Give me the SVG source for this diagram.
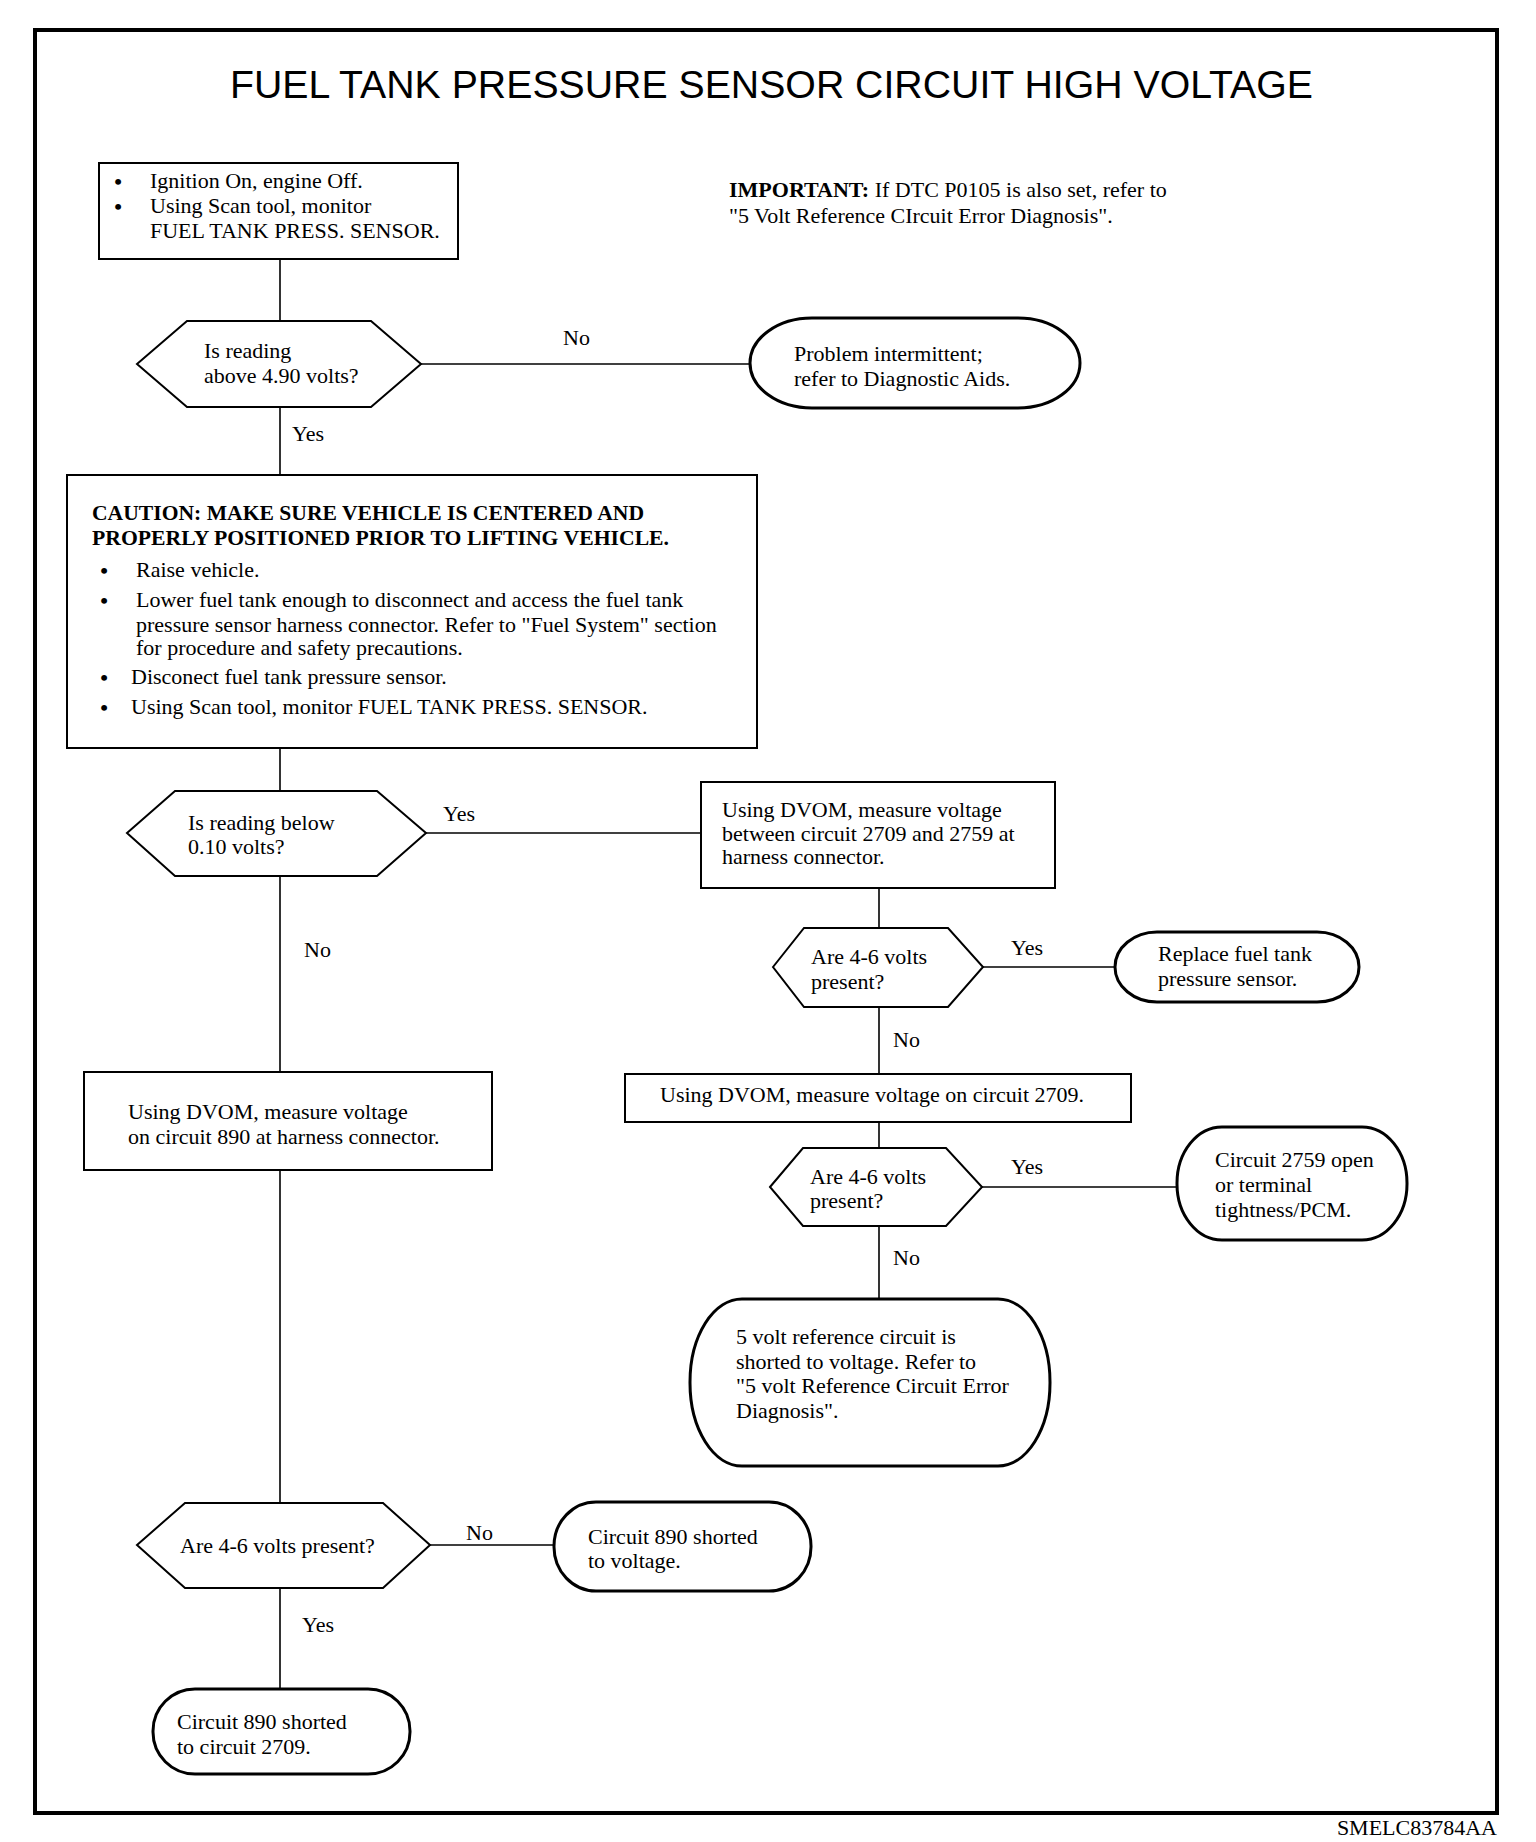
<svg xmlns="http://www.w3.org/2000/svg" width="1536" height="1842" viewBox="0 0 1536 1842">
<style>
text{font-family:"Liberation Serif","Times New Roman",serif;font-size:22px;fill:#000}
.b{font-weight:bold}
.bu{font-weight:bold;text-anchor:middle}
.title{font-family:"Liberation Sans",Arial,sans-serif;font-size:39px}
.box{fill:#fff;stroke:#000;stroke-width:2}
.term{fill:#fff;stroke:#000;stroke-width:3}
.con line{stroke:#000;stroke-width:1.6}
</style>
<rect x="0" y="0" width="1536" height="1842" fill="#fff"/>
<rect id="frame" x="35" y="30" width="1462" height="1783" fill="none" stroke="#000" stroke-width="4"/>
<text class="title" x="230" y="98" textLength="1083" lengthAdjust="spacingAndGlyphs">FUEL TANK PRESSURE SENSOR CIRCUIT HIGH VOLTAGE</text>
<text x="1497" y="1835" text-anchor="end" font-size="27">SMELC83784AA</text>

<g class="con" id="connectors">
<line x1="280" y1="259" x2="280" y2="321"/>
<line x1="421" y1="364" x2="750" y2="364"/>
<line x1="280" y1="407" x2="280" y2="475"/>
<line x1="280" y1="748" x2="280" y2="791"/>
<line x1="426" y1="833" x2="701" y2="833"/>
<line x1="879" y1="888" x2="879" y2="928"/>
<line x1="983" y1="967" x2="1115" y2="967"/>
<line x1="879" y1="1007" x2="879" y2="1074"/>
<line x1="879" y1="1122" x2="879" y2="1148"/>
<line x1="982" y1="1187" x2="1177" y2="1187"/>
<line x1="879" y1="1226" x2="879" y2="1299"/>
<line x1="280" y1="876" x2="280" y2="1072"/>
<line x1="280" y1="1170" x2="280" y2="1503"/>
<line x1="430" y1="1545" x2="554" y2="1545"/>
<line x1="280" y1="1588" x2="280" y2="1689"/>
<text x="563" y="345">No</text>
<text x="292" y="441">Yes</text>
<text x="443" y="821">Yes</text>
<text x="304" y="957">No</text>
<text x="1011" y="955">Yes</text>
<text x="893" y="1047">No</text>
<text x="1011" y="1174">Yes</text>
<text x="893" y="1265">No</text>
<text x="466" y="1540">No</text>
<text x="302" y="1632">Yes</text>
</g>

<g id="start">
<rect class="box" x="99" y="163" width="359" height="96"/>
<text class="bu" x="118" y="189">•</text><text x="150" y="188">Ignition On, engine Off.</text>
<text class="bu" x="118" y="214">•</text><text x="150" y="213">Using Scan tool, monitor</text>
<text x="150" y="238">FUEL TANK PRESS. SENSOR.</text>
</g>

<g id="important">
<text x="729" y="197"><tspan class="b">IMPORTANT:</tspan> If DTC P0105 is also set, refer to</text>
<text x="729" y="223">"5 Volt Reference CIrcuit Error Diagnosis".</text>
</g>

<g id="q1">
<polygon class="box" points="137,364 187,321 371,321 421,364 371,407 187,407"/>
<text x="204" y="358">Is reading</text>
<text x="204" y="383">above 4.90 volts?</text>
</g>

<g id="intermittent">
<rect class="term" x="750" y="318" width="330" height="90" rx="62" ry="45"/>
<text x="794" y="361">Problem intermittent;</text>
<text x="794" y="386">refer to Diagnostic Aids.</text>
</g>

<g id="caution">
<rect class="box" x="67" y="475" width="690" height="273"/>
<text class="b" x="92" y="520" textLength="552" lengthAdjust="spacingAndGlyphs">CAUTION: MAKE SURE VEHICLE IS CENTERED AND</text>
<text class="b" x="92" y="545" textLength="577" lengthAdjust="spacingAndGlyphs">PROPERLY POSITIONED PRIOR TO LIFTING VEHICLE.</text>
<text class="bu" x="104" y="578">•</text><text x="136" y="577">Raise vehicle.</text>
<text class="bu" x="104" y="608">•</text><text x="136" y="607">Lower fuel tank enough to disconnect and access the fuel tank</text>
<text x="136" y="632">pressure sensor harness connector. Refer to "Fuel System" section</text>
<text x="136" y="655">for procedure and safety precautions.</text>
<text class="bu" x="104" y="685">•</text><text x="131" y="684">Disconect fuel tank pressure sensor.</text>
<text class="bu" x="104" y="715">•</text><text x="131" y="714">Using Scan tool, monitor FUEL TANK PRESS. SENSOR.</text>
</g>

<g id="q2">
<polygon class="box" points="127,833 175,791 377,791 426,833 377,876 175,876"/>
<text x="188" y="830">Is reading below</text>
<text x="188" y="854">0.10 volts?</text>
</g>

<g id="dvom1">
<rect class="box" x="701" y="782" width="354" height="106"/>
<text x="722" y="817">Using DVOM, measure voltage</text>
<text x="722" y="841">between circuit 2709 and 2759 at</text>
<text x="722" y="864">harness connector.</text>
</g>

<g id="q3">
<polygon class="box" points="773,967 804,928 948,928 983,967 948,1007 804,1007"/>
<text x="811" y="964">Are 4-6 volts</text>
<text x="811" y="989">present?</text>
</g>

<g id="replace">
<rect class="term" x="1115" y="932" width="244" height="70" rx="42" ry="35"/>
<text x="1158" y="961">Replace fuel tank</text>
<text x="1158" y="986">pressure sensor.</text>
</g>

<g id="dvom2">
<rect class="box" x="625" y="1074" width="506" height="48"/>
<text x="660" y="1102">Using DVOM, measure voltage on circuit 2709.</text>
</g>

<g id="q4">
<polygon class="box" points="770,1187 803,1148 946,1148 982,1187 946,1226 803,1226"/>
<text x="810" y="1184">Are 4-6 volts</text>
<text x="810" y="1208">present?</text>
</g>

<g id="open2759">
<rect class="term" x="1177" y="1127" width="230" height="113" rx="45" ry="56"/>
<text x="1215" y="1167">Circuit 2759 open</text>
<text x="1215" y="1192">or terminal</text>
<text x="1215" y="1217">tightness/PCM.</text>
</g>

<g id="ref5v">
<rect class="term" x="690" y="1299" width="360" height="167" rx="52" ry="83"/>
<text x="736" y="1344">5 volt reference circuit is</text>
<text x="736" y="1369">shorted to voltage. Refer to</text>
<text x="736" y="1393">"5 volt Reference Circuit Error</text>
<text x="736" y="1418">Diagnosis".</text>
</g>

<g id="dvom890">
<rect class="box" x="84" y="1072" width="408" height="98"/>
<text x="128" y="1119">Using DVOM, measure voltage</text>
<text x="128" y="1144">on circuit 890 at harness connector.</text>
</g>

<g id="q5">
<polygon class="box" points="137,1545 185,1503 383,1503 430,1545 383,1588 185,1588"/>
<text x="180" y="1553">Are 4-6 volts present?</text>
</g>

<g id="short890v">
<rect class="term" x="554" y="1502" width="257" height="89" rx="42" ry="44"/>
<text x="588" y="1544">Circuit 890 shorted</text>
<text x="588" y="1568">to voltage.</text>
</g>

<g id="short890c">
<rect class="term" x="153" y="1689" width="257" height="85" rx="42" ry="42"/>
<text x="177" y="1729">Circuit 890 shorted</text>
<text x="177" y="1754">to circuit 2709.</text>
</g>
</svg>
